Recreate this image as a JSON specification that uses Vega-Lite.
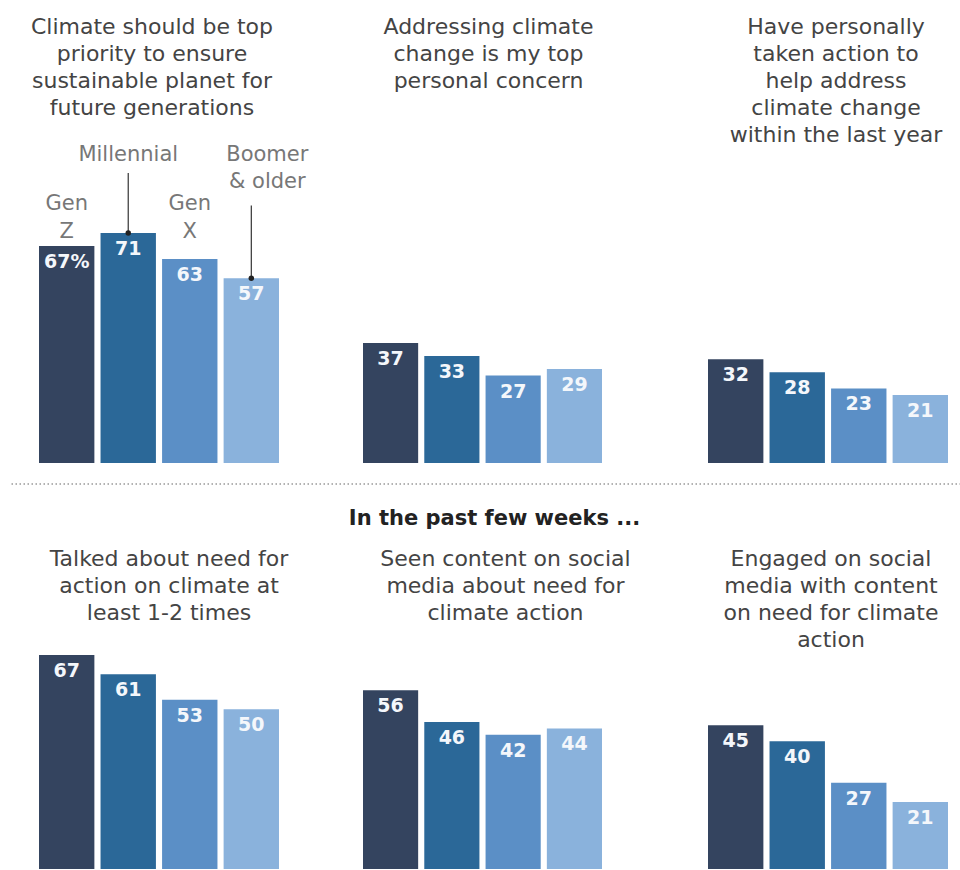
{
  "$schema": "https://vega.github.io/schema/vega-lite/v6.json",
  "background": "white",
  "padding": {"left": 10, "top": 16, "right": 0, "bottom": 0},
  "spacing": 20,
  "config": {
    "view": {"stroke": null},
    "font": "DejaVu Sans",
    "title": {"font": "DejaVu Sans", "fontSize": 22, "fontWeight": "normal", "color": "#444444", "lineHeight": 27, "anchor": "middle", "offset": 0},
    "text": {"font": "DejaVu Sans"}
  },
  "datasets": {
    "survey": [
      {"panel": "p1", "generation": "Gen Z", "value": 67, "label": "67%", "tag": "Gen|Z"},
      {"panel": "p1", "generation": "Millennial", "value": 71, "label": "71", "tag": "Millennial"},
      {"panel": "p1", "generation": "Gen X", "value": 63, "label": "63", "tag": "Gen|X"},
      {"panel": "p1", "generation": "Boomer & older", "value": 57, "label": "57", "tag": "Boomer|& older"},
      {"panel": "p2", "generation": "Gen Z", "value": 37, "label": "37"},
      {"panel": "p2", "generation": "Millennial", "value": 33, "label": "33"},
      {"panel": "p2", "generation": "Gen X", "value": 27, "label": "27"},
      {"panel": "p2", "generation": "Boomer & older", "value": 29, "label": "29"},
      {"panel": "p3", "generation": "Gen Z", "value": 32, "label": "32"},
      {"panel": "p3", "generation": "Millennial", "value": 28, "label": "28"},
      {"panel": "p3", "generation": "Gen X", "value": 23, "label": "23"},
      {"panel": "p3", "generation": "Boomer & older", "value": 21, "label": "21"},
      {"panel": "p4", "generation": "Gen Z", "value": 67, "label": "67"},
      {"panel": "p4", "generation": "Millennial", "value": 61, "label": "61"},
      {"panel": "p4", "generation": "Gen X", "value": 53, "label": "53"},
      {"panel": "p4", "generation": "Boomer & older", "value": 50, "label": "50"},
      {"panel": "p5", "generation": "Gen Z", "value": 56, "label": "56"},
      {"panel": "p5", "generation": "Millennial", "value": 46, "label": "46"},
      {"panel": "p5", "generation": "Gen X", "value": 42, "label": "42"},
      {"panel": "p5", "generation": "Boomer & older", "value": 44, "label": "44"},
      {"panel": "p6", "generation": "Gen Z", "value": 45, "label": "45"},
      {"panel": "p6", "generation": "Millennial", "value": 40, "label": "40"},
      {"panel": "p6", "generation": "Gen X", "value": 27, "label": "27"},
      {"panel": "p6", "generation": "Boomer & older", "value": 21, "label": "21"}
    ]
  },
  "vconcat": [
    {
      "hconcat": [
        {
          "width": 268, "height": 324,
          "title": {"text": ["Climate should be top", "priority to ensure", "sustainable planet for", "future generations", ""], "dx": 7, "offset": -8},
          "data": {"name": "survey"},
          "transform": [{"filter": "datum.panel == 'p1'"}],
          "encoding": {
            "x": {"field": "generation", "type": "nominal", "sort": ["Gen Z", "Millennial", "Gen X", "Boomer & older"], "axis": null, "scale": {"range": [28, 268], "paddingInner": 0.1, "paddingOuter": 0}},
            "y": {"field": "value", "type": "quantitative", "axis": null, "scale": {"domain": [0, 100], "nice": false}}
          },
          "layer": [
            {"mark": {"type": "bar"}, "encoding": {"color": {"field": "generation", "type": "nominal", "legend": null, "scale": {"domain": ["Gen Z", "Millennial", "Gen X", "Boomer & older"], "range": ["#34445f", "#2b6898", "#5b8fc6", "#8ab2dc"]}}}},
            {"mark": {"type": "text", "baseline": "top", "dy": 7, "color": "#f4f7fb", "fontWeight": "bold", "fontSize": 19}, "encoding": {"text": {"field": "label", "type": "nominal"}}},
            {"transform": [{"filter": "datum.generation == 'Millennial'"}], "mark": {"type": "rule", "color": "#333333", "strokeWidth": 1.2}, "encoding": {"y2": {"datum": 89.5}}},
            {"transform": [{"filter": "datum.generation == 'Boomer & older'"}], "mark": {"type": "rule", "color": "#333333", "strokeWidth": 1.2}, "encoding": {"y2": {"datum": 79.5}}},
            {"transform": [{"filter": "datum.generation == 'Millennial' || datum.generation == 'Boomer & older'"}], "mark": {"type": "point", "filled": true, "color": "#222222", "size": 30, "opacity": 1}, "encoding": {}},
            {"transform": [{"filter": "datum.generation == 'Gen Z' || datum.generation == 'Gen X'"}], "mark": {"type": "text", "lineBreak": "|", "baseline": "middle", "fontSize": 21, "color": "#777777", "lineHeight": 28}, "encoding": {"y": {"datum": 80.0}, "text": {"field": "tag", "type": "nominal"}}},
            {"transform": [{"filter": "datum.generation == 'Millennial'"}], "mark": {"type": "text", "baseline": "middle", "fontSize": 21, "color": "#777777"}, "encoding": {"y": {"datum": 95.2}, "text": {"field": "tag", "type": "nominal"}}},
            {"transform": [{"filter": "datum.generation == 'Boomer & older'"}], "mark": {"type": "text", "lineBreak": "|", "baseline": "middle", "fontSize": 21, "color": "#777777", "lineHeight": 27, "dx": 16}, "encoding": {"y": {"datum": 95.2}, "text": {"field": "tag", "type": "nominal"}}}
          ]
        },
        {
          "width": 261, "height": 324,
          "title": {"text": ["Addressing climate", "change is my top", "personal concern", "", ""], "dx": -5, "offset": -8},
          "data": {"name": "survey"},
          "transform": [{"filter": "datum.panel == 'p2'"}],
          "encoding": {
            "x": {"field": "generation", "type": "nominal", "sort": ["Gen Z", "Millennial", "Gen X", "Boomer & older"], "axis": null, "scale": {"range": [0, 239], "paddingInner": 0.1, "paddingOuter": 0}},
            "y": {"field": "value", "type": "quantitative", "axis": null, "scale": {"domain": [0, 100], "nice": false}}
          },
          "layer": [
            {"mark": {"type": "bar"}, "encoding": {"color": {"field": "generation", "type": "nominal", "legend": null, "scale": {"domain": ["Gen Z", "Millennial", "Gen X", "Boomer & older"], "range": ["#34445f", "#2b6898", "#5b8fc6", "#8ab2dc"]}}}},
            {"mark": {"type": "text", "baseline": "top", "dy": 7, "color": "#f4f7fb", "fontWeight": "bold", "fontSize": 19}, "encoding": {"text": {"field": "label", "type": "nominal"}}}
          ]
        },
        {
          "width": 240, "height": 324,
          "title": {"text": ["Have personally", "taken action to", "help address", "climate change", "within the last year"], "dx": 8, "offset": -8},
          "data": {"name": "survey"},
          "transform": [{"filter": "datum.panel == 'p3'"}],
          "encoding": {
            "x": {"field": "generation", "type": "nominal", "sort": ["Gen Z", "Millennial", "Gen X", "Boomer & older"], "axis": null, "scale": {"paddingInner": 0.1, "paddingOuter": 0}},
            "y": {"field": "value", "type": "quantitative", "axis": null, "scale": {"domain": [0, 100], "nice": false}}
          },
          "layer": [
            {"mark": {"type": "bar"}, "encoding": {"color": {"field": "generation", "type": "nominal", "legend": null, "scale": {"domain": ["Gen Z", "Millennial", "Gen X", "Boomer & older"], "range": ["#34445f", "#2b6898", "#5b8fc6", "#8ab2dc"]}}}},
            {"mark": {"type": "text", "baseline": "top", "dy": 7, "color": "#f4f7fb", "fontWeight": "bold", "fontSize": 19}, "encoding": {"text": {"field": "label", "type": "nominal"}}}
          ]
        }
      ],
      "spacing": 84,
      "bounds": "flush"
    },
    {
      "width": 950, "height": 4,
      "data": {"values": [{"kind": "separator"}]},
      "mark": {"type": "rule", "strokeDash": [1.5, 2.5], "color": "#999999", "strokeWidth": 1.5},
      "encoding": {"y": {"datum": 1, "type": "quantitative", "axis": null, "scale": {"domain": [0, 1]}}}
    },
    {
      "title": {"text": "In the past few weeks ...", "fontWeight": "bold", "color": "#222222", "fontSize": 21, "anchor": "middle", "dx": 15, "offset": 19},
      "hconcat": [
        {
          "width": 268, "height": 214,
          "title": {"text": ["Talked about need for", "action on climate at", "least 1-2 times", ""], "dx": 24, "offset": 3},
          "data": {"name": "survey"},
          "transform": [{"filter": "datum.panel == 'p4'"}],
          "encoding": {
            "x": {"field": "generation", "type": "nominal", "sort": ["Gen Z", "Millennial", "Gen X", "Boomer & older"], "axis": null, "scale": {"range": [28, 268], "paddingInner": 0.1, "paddingOuter": 0}},
            "y": {"field": "value", "type": "quantitative", "axis": null, "scale": {"domain": [0, 67], "nice": false}}
          },
          "layer": [
            {"mark": {"type": "bar"}, "encoding": {"color": {"field": "generation", "type": "nominal", "legend": null, "scale": {"domain": ["Gen Z", "Millennial", "Gen X", "Boomer & older"], "range": ["#34445f", "#2b6898", "#5b8fc6", "#8ab2dc"]}}}},
            {"mark": {"type": "text", "baseline": "top", "dy": 7, "color": "#f4f7fb", "fontWeight": "bold", "fontSize": 19}, "encoding": {"text": {"field": "label", "type": "nominal"}}}
          ]
        },
        {
          "width": 261, "height": 214,
          "title": {"text": ["Seen content on social", "media about need for", "climate action", ""], "dx": 12, "offset": 3},
          "data": {"name": "survey"},
          "transform": [{"filter": "datum.panel == 'p5'"}],
          "encoding": {
            "x": {"field": "generation", "type": "nominal", "sort": ["Gen Z", "Millennial", "Gen X", "Boomer & older"], "axis": null, "scale": {"range": [0, 239], "paddingInner": 0.1, "paddingOuter": 0}},
            "y": {"field": "value", "type": "quantitative", "axis": null, "scale": {"domain": [0, 67], "nice": false}}
          },
          "layer": [
            {"mark": {"type": "bar"}, "encoding": {"color": {"field": "generation", "type": "nominal", "legend": null, "scale": {"domain": ["Gen Z", "Millennial", "Gen X", "Boomer & older"], "range": ["#34445f", "#2b6898", "#5b8fc6", "#8ab2dc"]}}}},
            {"mark": {"type": "text", "baseline": "top", "dy": 7, "color": "#f4f7fb", "fontWeight": "bold", "fontSize": 19}, "encoding": {"text": {"field": "label", "type": "nominal"}}}
          ]
        },
        {
          "width": 240, "height": 214,
          "title": {"text": ["Engaged on social", "media with content", "on need for climate", "action"], "dx": 3, "offset": 3},
          "data": {"name": "survey"},
          "transform": [{"filter": "datum.panel == 'p6'"}],
          "encoding": {
            "x": {"field": "generation", "type": "nominal", "sort": ["Gen Z", "Millennial", "Gen X", "Boomer & older"], "axis": null, "scale": {"paddingInner": 0.1, "paddingOuter": 0}},
            "y": {"field": "value", "type": "quantitative", "axis": null, "scale": {"domain": [0, 67], "nice": false}}
          },
          "layer": [
            {"mark": {"type": "bar"}, "encoding": {"color": {"field": "generation", "type": "nominal", "legend": null, "scale": {"domain": ["Gen Z", "Millennial", "Gen X", "Boomer & older"], "range": ["#34445f", "#2b6898", "#5b8fc6", "#8ab2dc"]}}}},
            {"mark": {"type": "text", "baseline": "top", "dy": 7, "color": "#f4f7fb", "fontWeight": "bold", "fontSize": 19}, "encoding": {"text": {"field": "label", "type": "nominal"}}}
          ]
        }
      ],
      "spacing": 84,
      "bounds": "flush"
    }
  ]
}
